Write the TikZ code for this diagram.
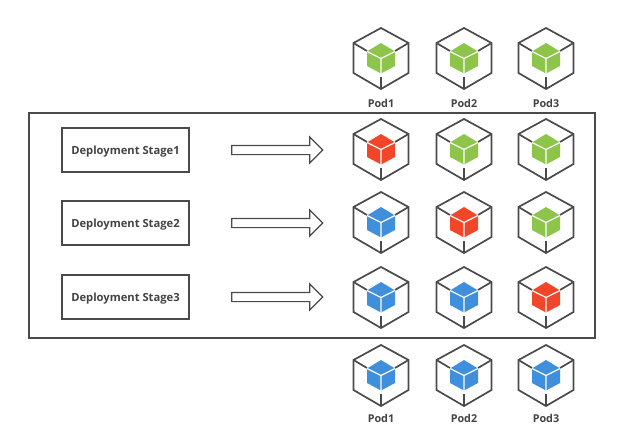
\documentclass[tikz,border=0pt]{standalone}
\usepackage{fontspec}
\setmainfont{Open Sans}
\usetikzlibrary{shapes.arrows}
\definecolor{podgreen}{HTML}{8CC54A}
\definecolor{podred}{HTML}{F1462A}
\definecolor{podblue}{HTML}{3F8FDC}
\definecolor{ink}{HTML}{4A4A4A}
\tikzset{
  x=1pt,y=-1pt,
  frame/.style={draw=ink,line width=1.4pt},
  stagebox/.style={draw=ink,line width=1.4pt,minimum width=127pt,minimum height=44pt,inner sep=0pt,text height=8pt,text depth=0pt,font=\bfseries\fontsize{11.2}{13}\selectfont,text=ink!90!black},
  blockarrow/.style={single arrow,draw=ink,line width=1.2pt,fill=white,minimum height=91pt,minimum width=25pt,inner xsep=0pt,inner ysep=4pt,text height=0pt,text depth=0pt,single arrow head extend=8.5pt,single arrow tip angle=90},
  podlabel/.style={font=\bfseries\fontsize{10.8}{12}\selectfont,text=ink!90!black,inner sep=0pt,text height=8pt,text depth=0pt},
  pics/pod/.style={code={
    \draw[ink,line width=1.7pt,line join=miter] (0,-30)--(27.5,-15)--(27.5,15)--(0,31)--(-27.5,15)--(-27.5,-15)--cycle;
    \draw[ink,line width=1.7pt] (-27.5,-15)--(-14,-7) (27.5,-15)--(14,-7) (0,31)--(0,19);
    \fill[#1] (0,-15)--(14,-6.5)--(14,8)--(0,15.5)--(-14,8)--(-14,-6.5)--cycle;
    \draw[white,line width=1.2pt] (-14,-6.5)--(0,0.5)--(14,-6.5) (0,0.5)--(0,15.5);
  }}
}
\begin{document}
\begin{tikzpicture}
\useasboundingbox (0,0) rectangle (618,444);
\draw[frame] (29,113) rectangle (595,338);
\foreach \n/\y/\a/\b/\c in {t/58/podgreen/podgreen/podgreen,a/149/podred/podgreen/podgreen,b/222/podblue/podred/podgreen,c/297/podblue/podblue/podred,d/375/podblue/podblue/podblue}{
  \pic (\n1) at (381,\y) {pod={\a}};
  \pic (\n2) at (464,\y) {pod={\b}};
  \pic (\n3) at (546,\y) {pod={\c}};
}
\node[podlabel] (lt1) at (381,103) {Pod1};
\node[podlabel] (lt2) at (464,103) {Pod2};
\node[podlabel] (lt3) at (546,103) {Pod3};
\node[podlabel] (ld1) at (381,418) {Pod1};
\node[podlabel] (ld2) at (464,418) {Pod2};
\node[podlabel] (ld3) at (546,418) {Pod3};
\node[stagebox] (s1) at (125.5,150) {Deployment Stage1};
\node[stagebox] (s2) at (125.5,223) {Deployment Stage2};
\node[stagebox] (s3) at (125.5,297) {Deployment Stage3};
\node[blockarrow] (a1) at (275,150) {};
\node[blockarrow] (a2) at (275,223) {};
\node[blockarrow] (a3) at (275,297) {};
\end{tikzpicture}
\end{document}
